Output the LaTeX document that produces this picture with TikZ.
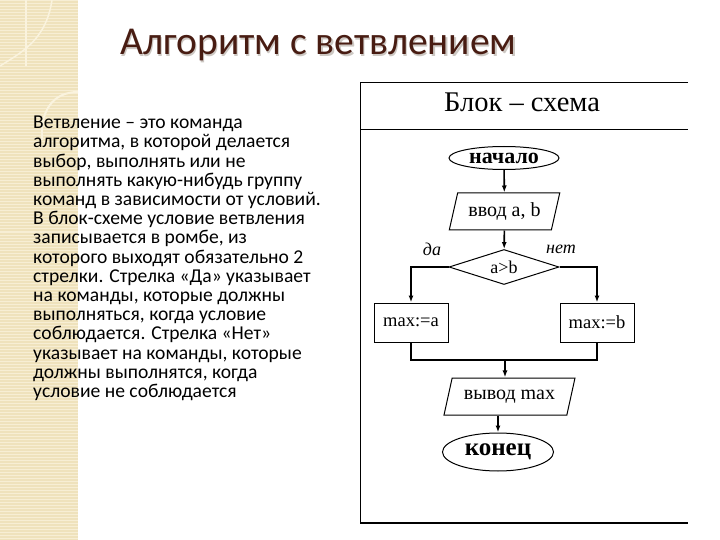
\documentclass[tikz,border=0pt]{standalone}
\usepackage{fontspec}
\setmainfont{Liberation Serif}
\newfontfamily\slidefont{Carlito}
\usetikzlibrary{positioning,shapes.geometric,arrows.meta}

\definecolor{stripbg}{RGB}{239,226,188}
\definecolor{stripln}{RGB}{247,238,212}
\definecolor{stripdeco}{RGB}{250,243,222}
\definecolor{titlebrown}{RGB}{72,28,18}
\definecolor{titleshade}{RGB}{205,200,195}

\tikzset{
	term/.style={draw, ellipse, line width=1pt, inner sep=0pt,
		minimum width=110pt, font=\fontsize{22}{24}\selectfont\bfseries},
	io/.style={draw, trapezium, trapezium stretches=true, line width=1pt,
		inner sep=0pt, minimum height=37pt, font=\fontsize{20}{22}\selectfont},
	test/.style={draw, diamond, aspect=3.1, line width=1pt, inner sep=0pt,
		minimum width=110pt, minimum height=35pt, font=\fontsize{18}{20}\selectfont},
	proc/.style={draw, rectangle, line width=1pt, inner sep=0pt,
		minimum width=74pt, minimum height=39pt, font=\fontsize{18.5}{20}\selectfont},
	lbl/.style={font=\fontsize{18}{20}\selectfont\itshape, inner sep=0pt},
	flow/.style={line width=1.6pt, -{Latex[length=7pt,width=5pt]}},
	mergeline/.style={line width=1.6pt}
}

\begin{document}
\begin{tikzpicture}[x=1pt,y=-1pt]
	\useasboundingbox (0,0) rectangle (720,540);
	\fill[white] (0,0) rectangle (720,540);

	% beige strip on the left
	\fill[stripbg] (0,0) rectangle (78,540);
	\foreach \y in {1,4,...,540}
		\draw[stripln, line width=1pt] (0,\y) -- (78,\y);
	\draw[stripdeco, line width=1.5pt] (52,0) .. controls (46,40) and (22,52) .. (0,66);
	\draw[stripdeco, line width=1.5pt] (26,0) -- (26,66);
	\draw[stripdeco, line width=2pt] (78,92) .. controls (52,92) and (40,112) .. (42,140);

	% title
	\node[anchor=base west, inner sep=0pt, text=titleshade,
		font=\slidefont\fontsize{39.5}{42}\selectfont] (shade) at (121.5,56.5) {Алгоритм с ветвлением};
	\node[anchor=base west, inner sep=0pt, text=titlebrown,
		font=\slidefont\fontsize{39.5}{42}\selectfont] (title) at (120,55) {Алгоритм с ветвлением};

	% explanation
	\node[anchor=north west, inner sep=0pt, align=left,
		font=\slidefont\fontsize{19.6}{19.2}\selectfont] (body) at (33,116) {%
		Ветвление – это команда\\
		алгоритма, в которой делается\\
		выбор, выполнять или не\\
		выполнять какую-нибудь группу\\
		команд в зависимости от условий.\\
		В блок-схеме условие ветвления\\
		записывается в ромбе, из\\
		которого выходят обязательно 2\\
		стрелки. Стрелка «Да» указывает\\
		на команды, которые должны\\
		выполняться, когда условие\\
		соблюдается. Стрелка «Нет»\\
		указывает на команды, которые\\
		должны выполнятся, когда\\
		условие не соблюдается};

	% frame of the block scheme
	\draw[line width=1pt] (688,83) -- (360,83) -- (360,523);
	\draw[line width=1pt] (360,130) -- (688,130);
	\draw[line width=1.6pt] (360,523) -- (688,523);
	\node[font=\fontsize{28.5}{30}\selectfont] (head) at (522,102) {Блок – схема};

	% block scheme
	\node[term, minimum height=23pt] (start) at (504,158) {начало};
	\node[io, trapezium left angle=70, trapezium right angle=110,
		minimum width=111pt] (inp) at (504.5,211.5) {ввод a, b};
	\node[test] (cond) at (504,267) {a>b};
	\node[proc] (ma) at (411,322.5) {max:=a};
	\node[proc] (mb) at (597,322.5) {max:=b};
	\node[io, trapezium left angle=64, trapezium right angle=116,
		minimum width=131pt] (outp) at (509.5,396.5) {вывод max};
	\node[term, minimum width=111pt, minimum height=38pt,
		font=\fontsize{25}{27}\selectfont\bfseries] (stop) at (498,452) {конец};
	\node[lbl] (yes) at (432,249) {да};
	\node[lbl] (no) at (561,249) {нет};
	\coordinate (merge) at (505,360);

	\draw[flow] (start) -- (inp);
	\draw[flow] (inp) -- (cond);
	\draw[flow] (cond.west) -| (ma.north);
	\draw[flow] (cond.east) -| (mb.north);
	\draw[mergeline] (ma.south) |- (merge) -| (mb.south);
	\draw[flow] (merge) -- (merge |- outp.north);
	\draw[flow] (stop |- outp.south) -- (stop.north);
\end{tikzpicture}
\end{document}
